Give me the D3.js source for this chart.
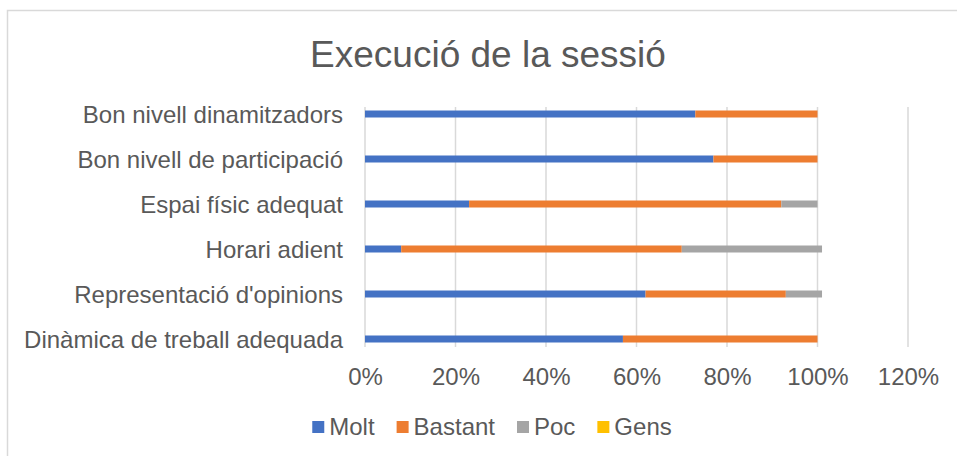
<!DOCTYPE html>
<html>
<head>
<meta charset="utf-8">
<script src="https://cdn.jsdelivr.net/npm/d3@7"></script>
<style>
  body { margin: 0; background: #fff; }
  svg text { font-family: "Liberation Sans", Arial, sans-serif; fill: #595959; }
</style>
</head>
<body>
<svg id="chart" width="957" height="456"></svg>
<script>
// dades del gràfic
const categories = [
  "Bon nivell dinamitzadors",
  "Bon nivell de participació",
  "Espai físic adequat",
  "Horari adient",
  "Representació d'opinions",
  "Dinàmica de treball adequada"
];
const seriesNames = ["Molt", "Bastant", "Poc", "Gens"];
const molt = [0.73, 0.77, 0.23, 0.08, 0.62, 0.57];
const bastant = [0.27, 0.23, 0.69, 0.62, 0.31, 0.43];
const poc = [0, 0, 0.08, 0.31, 0.08, 0];
const gens = [0, 0, 0, 0, 0, 0];
const tickValues = [0, 0.2, 0.4, 0.6, 0.8, 1.0, 1.2];
const colors = ["#4472C4", "#ED7D31", "#A5A5A5", "#FFC000"];

const svg = d3.select("#chart");

// marc del gràfic (només vores superior i esquerra visibles)
svg.append("rect")
  .attr("x", 7.5).attr("y", 10.5)
  .attr("width", 960).attr("height", 460)
  .attr("fill", "none")
  .attr("stroke", "#d9d9d9")
  .attr("stroke-width", 1.5);

// taula per apilar
const rows = categories.map((c, i) => ({
  cat: c, Molt: molt[i], Bastant: bastant[i], Poc: poc[i], Gens: gens[i]
}));
const stacked = d3.stack().keys(seriesNames)(rows);

const x = d3.scaleLinear().domain([0, 1.2]).range([365, 908]);
const y = d3.scalePoint().domain(categories).range([114, 339]);
const color = d3.scaleOrdinal().domain(seriesNames).range(colors);

const gridTop = 107, gridBottom = 347, barH = 7;

// línies de quadrícula
svg.append("g")
  .selectAll("line")
  .data(tickValues)
  .join("line")
  .attr("x1", d => x(d)).attr("x2", d => x(d))
  .attr("y1", gridTop).attr("y2", gridBottom)
  .attr("stroke", "#d9d9d9")
  .attr("stroke-width", 1.5);

// eix x
const xAxis = d3.axisBottom(x)
  .tickValues(tickValues)
  .tickFormat(d3.format(".0%"))
  .tickSize(0);
const gx = svg.append("g")
  .attr("transform", "translate(0,365)")
  .call(xAxis);
gx.select(".domain").remove();
gx.selectAll("text")
  .attr("y", 0).attr("dy", "0.84em")
  .style("font-size", "24px")
  .style("font-family", "'Liberation Sans', Arial, sans-serif")
  .attr("fill", "#595959");

// eix y
const yAxis = d3.axisLeft(y).tickSize(0);
const gy = svg.append("g")
  .attr("transform", "translate(343,0)")
  .call(yAxis);
gy.select(".domain").remove();
gy.selectAll("text")
  .attr("x", 0).attr("dy", "0.35em")
  .style("font-size", "24px")
  .style("font-family", "'Liberation Sans', Arial, sans-serif")
  .attr("fill", "#595959");

// barres apilades
svg.append("g")
  .selectAll("g")
  .data(stacked)
  .join("g")
  .attr("fill", d => color(d.key))
  .selectAll("rect")
  .data(d => d)
  .join("rect")
  .attr("x", d => x(d[0]))
  .attr("y", d => y(d.data.cat) - barH / 2)
  .attr("width", d => x(d[1]) - x(d[0]))
  .attr("height", barH);

// títol
svg.append("text")
  .attr("x", 488).attr("y", 67)
  .attr("text-anchor", "middle")
  .style("font-size", "37px")
  .text("Execució de la sessió");

// llegenda
const legend = svg.append("g");
const items = legend.selectAll("g")
  .data(seriesNames)
  .join("g");
items.append("rect")
  .attr("width", 12).attr("height", 12)
  .attr("y", 421)
  .attr("fill", d => color(d));
items.append("text")
  .attr("x", 17).attr("y", 427).attr("dy", "0.35em")
  .style("font-size", "24px")
  .text(d => d);

let offset = 0;
items.each(function () {
  const g = d3.select(this);
  g.attr("transform", `translate(${offset},0)`);
  offset += 17 + g.select("text").node().getComputedTextLength() + 22;
});
const totalW = offset - 22;
legend.attr("transform", `translate(${492 - totalW / 2},0)`);
</script>
</body>
</html>
